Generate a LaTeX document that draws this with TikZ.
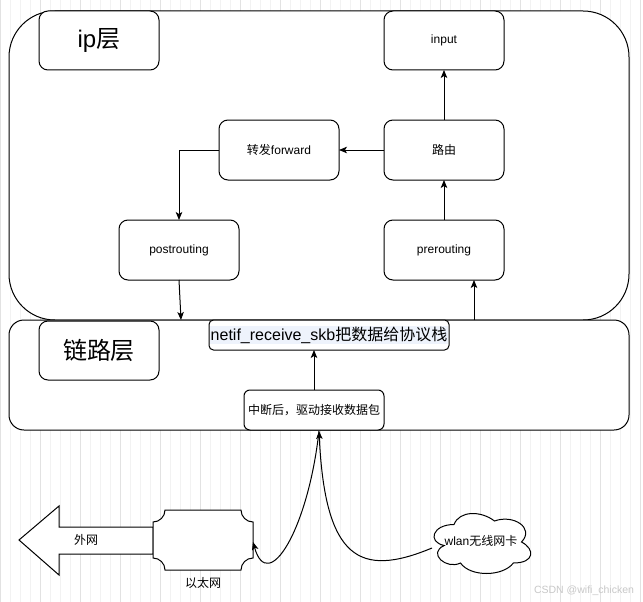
\documentclass[tikz,border=0pt]{standalone}
\usepackage{fontspec}
\setmainfont{Liberation Sans}
\newfontfamily\cjk{Noto Sans CJK SC}
\usetikzlibrary{arrows.meta}
\definecolor{gridminor}{RGB}{242,242,242}
\definecolor{gridmajor}{RGB}{226,226,226}
\definecolor{hl}{RGB}{238,243,252}
\definecolor{wm}{RGB}{200,200,200}
\tikzset{
  box/.style={draw=black, fill=white, line width=1pt, rounded corners=9pt,
    minimum width=120pt, minimum height=60pt, inner sep=0pt, outer sep=0pt,
    font=\fontsize{12}{14}\selectfont},
  bigbox/.style={draw=black, fill=white, line width=1pt, inner sep=0pt, outer sep=0pt},
  shapeline/.style={draw=black, fill=white, line width=1pt},
  arr/.style={draw=black, line width=1pt, -{Stealth[length=8pt,width=6.5pt,inset=2pt]}},
  plain/.style={inner sep=0pt, font=\fontsize{12}{14}\selectfont},
}
\begin{document}
\begin{tikzpicture}[x=1pt,y=-1pt]
\useasboundingbox (0,0) rectangle (643,602);
\fill[white] (0,0) rectangle (643,602);
% grid
\draw[gridminor, line width=0.6pt, step=10] (0,0) grid (643,602);
\draw[gridmajor, line width=0.8pt, step=40] (0,0) grid (643,602);

% layers
\node[bigbox, rounded corners=46pt, minimum width=620pt, minimum height=309pt] (iplayer) at (319,165.5) {};
\node[bigbox, rounded corners=15pt, minimum width=620pt, minimum height=110pt] (linklayer) at (319,375) {};

% labels
\node[box, minimum height=59pt, font=\fontsize{24}{28}\selectfont] (iplabel) at (99,40.5) {ip{\cjk 层}};
\node[box, minimum height=59pt, font=\fontsize{24}{28}\selectfont] (linklabel) at (99,350.5) {{\cjk 链路层}};

% ip nodes
\node[box, minimum height=59pt] (input) at (444,40.5) {input};
\node[box] (forward) at (279,150) {{\cjk 转发}forward};
\node[box] (route) at (444,150) {{\cjk 路由}};
\node[box] (post) at (179,250) {postrouting};
\node[box] (pre) at (444,250) {prerouting};

% link nodes
\node[box, rounded corners=4.5pt, minimum width=240pt, minimum height=30pt] (netif) at (329,335) {};
\node[fill=hl, inner sep=1pt, font=\fontsize{16}{19}\selectfont] (netiftext) at (329,335) {netif\_receive\_skb{\cjk 把数据给协议栈}};
\node[box, rounded corners=6pt, minimum width=140pt, minimum height=40pt] (intr) at (314,410) {{\cjk 中断后，驱动接收数据包}};

% ip connectors
\draw[arr] (route.west) -- (forward.east);
\draw[arr] (pre.north) -- (route.south);
\draw[arr] (route.north) -- (input.south);
\draw[arr] (forward.west) -| (post.north);
\coordinate (postend) at (181,320);
\draw[arr] (post.south) -- (postend);
\coordinate (prestart) at (474,320);
\draw[arr] (prestart) -- (prestart |- pre.south);
\draw[arr] (intr.north) -- (intr.north |- netif.south);

% outer network arrow
\path[shapeline] (19,540) -- (59,506) -- (59,527) -- (153,527) -- (153,554) -- (59,554) -- (59,575) -- cycle;
\node[plain] (outer) at (86,540) {{\cjk 外网}};

% ethernet plaque
\path[shapeline] (165,510) -- (241,510) .. controls (241,516.6) and (246.4,522) .. (253,522)
  -- (253,558) .. controls (246.4,558) and (241,563.4) .. (241,570)
  -- (165,570) .. controls (165,563.4) and (159.6,558) .. (153,558)
  -- (153,522) .. controls (159.6,522) and (165,516.6) .. (165,510) -- cycle;
\node[minimum width=100pt, minimum height=60pt, inner sep=0pt, outer sep=0pt] (eth) at (203,540) {};
\node[plain] (ethlabel) at (203,583) {{\cjk 以太网}};

% cloud
\path[shapeline] (454,524.5) .. controls (432.4,524.5) and (427,542) .. (444.28,545.5)
  .. controls (427,553.2) and (446.44,570) .. (460.48,563)
  .. controls (470.2,577) and (502.6,577) .. (513.4,563)
  .. controls (535,563) and (535,549) .. (521.5,542)
  .. controls (535,528) and (513.4,514) .. (494.5,521)
  .. controls (481,510.5) and (459.4,510.5) .. (454,524.5) -- cycle;
\node[plain] (wlan) at (481,541) {wlan{\cjk 无线网卡}};
\coordinate (wlanl) at (432,548);

% curved connectors
\coordinate (intrin) at (319,431);
\draw[arr] (wlanl) .. controls (360,578) and (325,560) .. (intrin);
\draw[arr] (intrin) .. controls (308,530) and (268,595) .. ([yshift=-2pt]eth.east);

% watermark
\node[inner sep=0pt, text=wm, font=\fontsize{10.5}{12}\selectfont] (watermark) at (584,591) {CSDN @wifi\_chicken};
\end{tikzpicture}
\end{document}
